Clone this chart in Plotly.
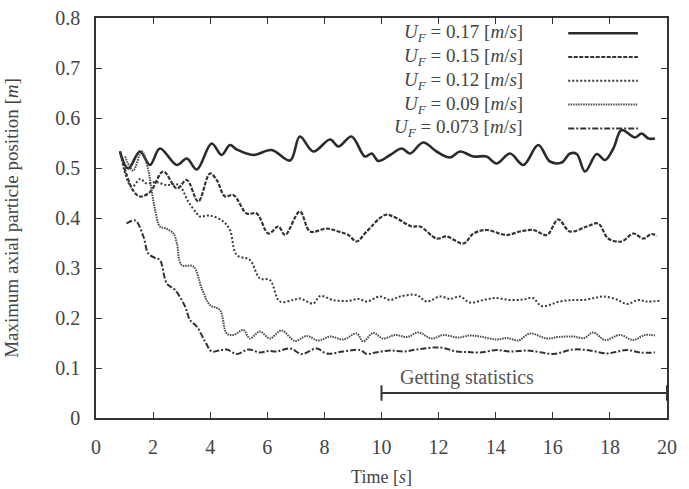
import plotly.graph_objects as go

# ---------------- data ----------------
labels = ["0.17", "0.15", "0.12", "0.09", "0.073"]

t_017 = [0.84, 1.13, 1.54, 1.89, 2.24, 2.83, 3.18, 3.53, 4.05, 4.40, 4.69, 4.93, 5.51, 6.15,
         6.80, 7.14, 7.61, 8.20, 8.49, 8.95, 9.42, 9.66, 9.89, 10.30, 10.71, 11.00, 11.46,
         11.93, 12.40, 12.75, 13.22, 13.68, 14.03, 14.50, 14.97, 15.49, 15.90, 16.31, 16.60,
         16.84, 17.13, 17.54, 17.83, 18.12, 18.41, 18.88, 19.11, 19.35, 19.58]
y_017 = [0.533, 0.499, 0.533, 0.506, 0.539, 0.506, 0.519, 0.497, 0.549, 0.526, 0.546, 0.537,
         0.526, 0.536, 0.515, 0.563, 0.533, 0.557, 0.543, 0.563, 0.523, 0.529, 0.514, 0.526,
         0.539, 0.529, 0.551, 0.533, 0.521, 0.533, 0.523, 0.523, 0.509, 0.529, 0.506, 0.546,
         0.513, 0.511, 0.529, 0.528, 0.493, 0.528, 0.516, 0.539, 0.576, 0.561, 0.569, 0.559,
         0.559]

t_015 = [0.84, 1.29, 1.54, 1.89, 2.36, 2.83, 3.18, 3.58, 3.99, 4.23, 4.52, 4.81, 5.28, 5.63,
         6.04, 6.39, 6.62, 7.14, 7.50, 8.08, 8.49, 8.84, 9.13, 9.48, 10.12, 10.41, 11.06,
         11.35, 11.93, 12.28, 12.87, 13.22, 13.68, 14.38, 14.85, 15.32, 15.79, 16.19, 16.60,
         17.19, 17.59, 17.94, 18.41, 18.82, 19.17, 19.46, 19.64]
y_015 = [0.533, 0.456, 0.443, 0.452, 0.493, 0.459, 0.476, 0.433, 0.489, 0.476, 0.443, 0.446,
         0.409, 0.409, 0.369, 0.383, 0.366, 0.413, 0.373, 0.379, 0.373, 0.366, 0.353, 0.373,
         0.406, 0.403, 0.383, 0.383, 0.359, 0.363, 0.349, 0.369, 0.376, 0.366, 0.373, 0.376,
         0.366, 0.397, 0.373, 0.383, 0.389, 0.359, 0.353, 0.369, 0.359, 0.368, 0.364]

t_012 = [0.84, 1.25, 1.55, 1.77, 2.10, 2.45, 2.90, 3.23, 3.53, 3.64, 3.99, 4.46, 4.69, 4.93,
         5.39, 5.74, 6.09, 6.44, 6.90, 7.14, 7.61, 7.85, 8.30, 8.80, 9.20, 9.48, 9.95, 10.30,
         10.65, 11.23, 11.58, 12.05, 12.40, 12.75, 13.10, 13.57, 14.00, 14.50, 14.97, 15.30,
         15.61, 16.25, 16.70, 17.07, 17.45, 17.77, 18.24, 18.59, 19.00, 19.29, 19.81]
y_012 = [0.533, 0.462, 0.478, 0.469, 0.472, 0.466, 0.466, 0.433, 0.409, 0.403, 0.405, 0.393,
         0.376, 0.326, 0.316, 0.279, 0.276, 0.233, 0.236, 0.239, 0.229, 0.244, 0.236, 0.234,
         0.238, 0.233, 0.243, 0.236, 0.243, 0.246, 0.233, 0.243, 0.238, 0.243, 0.231, 0.236,
         0.240, 0.236, 0.237, 0.240, 0.224, 0.233, 0.236, 0.236, 0.240, 0.243, 0.237, 0.228,
         0.236, 0.233, 0.235]

t_009 = [1.02, 1.30, 1.60, 1.83, 1.95, 2.07, 2.24, 2.45, 2.71, 2.83, 3.00, 3.41, 3.70, 3.99,
         4.34, 4.58, 4.81, 5.16, 5.39, 5.74, 6.09, 6.50, 6.97, 7.38, 7.79, 8.20, 8.66, 9.13,
         9.36, 9.71, 10.06, 10.47, 10.90, 11.29, 11.76, 12.17, 12.69, 13.10, 13.45, 14.03,
         14.40, 14.79, 15.20, 15.79, 16.20, 16.72, 17.10, 17.42, 17.83, 18.35, 18.82, 19.23,
         19.58]
y_009 = [0.523, 0.495, 0.533, 0.496, 0.455, 0.416, 0.383, 0.379, 0.369, 0.350, 0.306, 0.303,
         0.260, 0.226, 0.216, 0.169, 0.166, 0.176, 0.159, 0.173, 0.159, 0.175, 0.154, 0.164,
         0.155, 0.163, 0.157, 0.169, 0.153, 0.170, 0.159, 0.166, 0.162, 0.171, 0.159, 0.166,
         0.161, 0.165, 0.163, 0.157, 0.160, 0.155, 0.169, 0.159, 0.162, 0.163, 0.160, 0.171,
         0.156, 0.166, 0.156, 0.166, 0.165]

t_0073 = [1.07, 1.37, 1.66, 1.83, 2.07, 2.24, 2.48, 2.77, 3.12, 3.29, 3.53, 3.82, 4.05, 4.30,
          4.58, 4.93, 5.34, 5.74, 6.05, 6.33, 6.80, 7.21, 7.73, 8.08, 8.66, 9.25, 9.48, 9.80,
          10.30, 10.80, 11.23, 12.05, 12.63, 13.00, 13.45, 14.03, 14.50, 15.08, 15.50, 16.02,
          16.72, 17.30, 17.89, 18.20, 18.59, 19.05, 19.58]
y_0073 = [0.389, 0.395, 0.363, 0.329, 0.320, 0.316, 0.269, 0.256, 0.223, 0.196, 0.183, 0.153,
          0.133, 0.135, 0.137, 0.128, 0.137, 0.131, 0.134, 0.133, 0.139, 0.128, 0.139, 0.129,
          0.133, 0.136, 0.128, 0.131, 0.135, 0.133, 0.137, 0.141, 0.133, 0.132, 0.131, 0.136,
          0.133, 0.135, 0.132, 0.128, 0.137, 0.135, 0.129, 0.132, 0.136, 0.131, 0.131]

stats_t = [10, 20]
stats_y = [0.05, 0.05]
stats_label = "Getting statistics"

x_ticks = [0, 2, 4, 6, 8, 10, 12, 14, 16, 18, 20]
y_ticks = [0, 0.1, 0.2, 0.3, 0.4, 0.5, 0.6, 0.7, 0.8]

# ---------------- styles ----------------
series = [(t_017, y_017), (t_015, y_015), (t_012, y_012), (t_009, y_009), (t_0073, y_0073)]
colors = ["#2b2b2b", "#333333", "#3a3a3a", "#4a4a4a", "#333333"]
widths = [2.6, 2.2, 2.0, 2.0, 2.0]
dashes = ["solid", "4px,1.5px", "2px,2px", "1.5px,1px", "6px,2px,2px,2px"]

FONT = "Liberation Serif, DejaVu Serif, serif"
fig = go.Figure()

for (tt, yy), c, w, d in zip(series, colors, widths, dashes):
    fig.add_trace(go.Scatter(x=tt, y=yy, mode="lines", showlegend=False,
                             line=dict(color=c, width=w, dash=d, shape="spline", smoothing=1.0)))

fig.add_trace(go.Scatter(x=stats_t, y=stats_y, mode="lines+markers", showlegend=False,
                         cliponaxis=False,
                         line=dict(color="#333333", width=2),
                         marker=dict(symbol="line-ns-open", size=11,
                                     line=dict(color="#333333", width=2))))

annotations = [dict(x=sum(stats_t) / 2 - 2.0, y=stats_y[0], xref="x", yref="y",
                    text=stats_label, showarrow=False, yanchor="bottom", yshift=2,
                    font=dict(family=FONT, size=20, color="#555555"))]

# manual legend (text left, sample right)
shapes = []
row_top, row_step = 0.962, 0.0595
for i, (lab, c, w, d) in enumerate(zip(labels, colors, widths, dashes)):
    yy = row_top - i * row_step
    annotations.append(dict(
        x=0.751, y=yy, xref="paper", yref="paper", xanchor="right", yanchor="middle",
        showarrow=False,
        text="<i>U</i><sub><i>F</i></sub> = " + lab + " [<i>m</i>/<i>s</i>]",
        font=dict(family=FONT, size=19, color="#444444")))
    shapes.append(dict(type="line", xref="paper", yref="paper", x0=0.827, x1=0.949,
                       y0=yy, y1=yy, line=dict(color=c, width=w, dash=d)))

axis_common = dict(showline=True, linecolor="#333333", linewidth=1.5, mirror="ticks",
                   ticks="inside", ticklen=6, tickwidth=1.2, tickcolor="#333333",
                   showgrid=False, zeroline=False, automargin=False,
                   tickfont=dict(family=FONT, size=20, color="#444444"))

fig.update_layout(
    width=689, height=489,
    margin=dict(l=96, r=22, t=18, b=71),
    paper_bgcolor="white", plot_bgcolor="white",
    xaxis=dict(range=[0, 20], tickvals=x_ticks, ticklabelstandoff=10,
               title=dict(text="Time [<i>s</i>]", standoff=14,
                          font=dict(family=FONT, size=18, color="#444444")),
               **axis_common),
    yaxis=dict(range=[0, 0.8], tickvals=y_ticks, ticktext=[f"{v:g}" for v in y_ticks],
               ticklabelstandoff=10,
               title=dict(text="Maximum axial particle position [<i>m</i>]", standoff=32,
                          font=dict(family=FONT, size=19, color="#444444")),
               **axis_common),
    annotations=annotations,
    shapes=shapes,
)

fig.write_html("out.html")
